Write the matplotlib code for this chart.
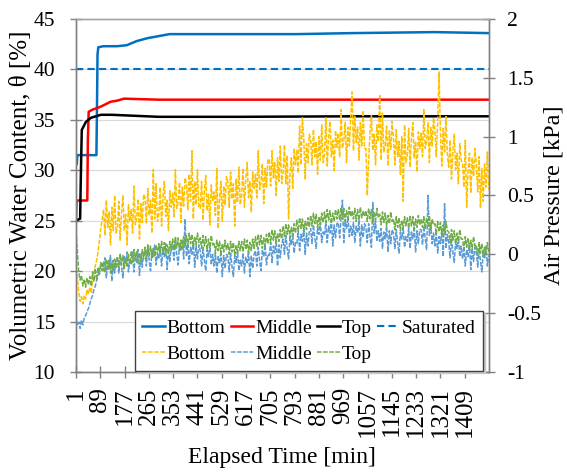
import numpy as np
import matplotlib
matplotlib.use("Agg")
import matplotlib.pyplot as plt

plt.rcParams['font.family'] = ['Liberation Serif', 'DejaVu Serif']

# ---- volumetric water content (left axis), breakpoints
t_bottom = [1, 4, 6, 75, 77, 79, 82, 100, 150, 185, 220, 260, 300, 340, 500, 800, 1000, 1300, 1496]
vwc_bottom = [30.6, 30.6, 31.5, 31.5, 36.0, 41.5, 42.2, 42.3, 42.3, 42.4, 42.8, 43.1, 43.3, 43.5,
              43.5, 43.5, 43.6, 43.7, 43.6]

t_middle = [1, 3, 5, 42, 44, 47, 60, 90, 127, 150, 175, 300, 600, 1000, 1496]
vwc_middle = [25.0, 26.8, 27.0, 27.0, 33.0, 35.8, 36.0, 36.3, 36.8, 36.9, 37.1, 37.0, 37.0, 37.0, 37.0]

t_top = [1, 16, 19, 22, 37, 55, 91, 130, 300, 600, 1000, 1496]
vwc_top = [25.0, 25.2, 30.0, 34.0, 34.8, 35.2, 35.5, 35.5, 35.3, 35.3, 35.35, 35.35]

t_saturated = [1, 1496]
vwc_saturated = [40.0, 40.0]

# ---- air pressure (right axis), one reading every 5 min
t_press = np.arange(1, 1500, 5)

p_bottom = [
    -0.12, -0.20, -0.32, -0.40, -0.36, -0.42, -0.35, -0.38, -0.30, -0.34,
    -0.28, -0.33, -0.22, -0.15, -0.10, -0.05, 0.02, 0.12, 0.22, 0.30,
    0.38, 0.16, 0.46, 0.23, 0.36, 0.08, 0.40, 0.20, 0.50, 0.18,
    0.22, 0.45, 0.12, 0.36, 0.50, 0.20, 0.34, 0.08, 0.42, 0.28,
    0.38, 0.18, 0.58, 0.25, 0.31, 0.47, 0.13, 0.43, 0.27, 0.51,
    0.48, 0.26, 0.56, 0.33, 0.46, 0.18, 0.72, 0.30, 0.60, 0.28,
    0.34, 0.57, 0.24, 0.48, 0.62, 0.32, 0.46, 0.20, 0.54, 0.40,
    0.52, 0.32, 0.72, 0.39, 0.45, 0.61, 0.27, 0.57, 0.41, 0.65,
    0.60, 0.38, 0.68, 0.45, 0.88, 0.30, 0.62, 0.42, 0.72, 0.40,
    0.39, 0.62, 0.29, 0.53, 0.67, 0.37, 0.51, 0.25, 0.59, 0.45,
    0.53, 0.33, 0.73, 0.22, 0.46, 0.62, 0.28, 0.58, 0.42, 0.66,
    0.62, 0.40, 0.70, 0.47, 0.60, 0.24, 0.64, 0.44, 0.74, 0.42,
    0.50, 0.73, 0.40, 0.64, 0.78, 0.48, 0.62, 0.36, 0.70, 0.56,
    0.68, 0.48, 0.88, 0.55, 0.61, 0.77, 0.43, 0.73, 0.57, 0.81,
    0.80, 0.58, 0.88, 0.65, 0.78, 0.50, 0.82, 0.62, 0.92, 0.60,
    0.70, 0.93, 0.60, 0.84, 0.30, 0.68, 0.82, 0.56, 0.90, 0.76,
    0.89, 0.69, 1.09, 0.76, 1.16, 0.98, 0.64, 0.94, 0.78, 1.02,
    0.98, 0.76, 1.06, 0.83, 0.96, 0.68, 1.00, 0.80, 1.10, 0.78,
    0.85, 1.16, 0.75, 0.99, 1.13, 0.83, 0.97, 0.71, 1.05, 0.91,
    1.03, 0.83, 1.23, 0.90, 0.96, 1.12, 0.78, 1.08, 0.92, 1.16,
    1.38, 0.88, 1.18, 0.95, 1.08, 0.80, 1.12, 0.92, 1.22, 0.90,
    0.90, 0.50, 0.80, 1.04, 1.18, 0.88, 1.02, 0.76, 1.10, 0.96,
    1.35, 0.80, 1.20, 0.87, 0.93, 1.09, 0.75, 1.05, 0.89, 1.13,
    0.98, 0.76, 1.06, 0.83, 0.96, 0.68, 1.00, 0.45, 1.10, 0.78,
    0.84, 1.07, 0.74, 0.98, 1.12, 0.82, 0.96, 0.70, 1.04, 0.90,
    1.03, 0.83, 1.23, 0.90, 0.96, 1.12, 0.78, 1.08, 0.92, 1.16,
    1.05, 0.83, 1.13, 1.55, 1.03, 0.75, 1.07, 0.87, 1.17, 0.85,
    0.74, 0.97, 0.64, 0.88, 1.02, 0.72, 0.86, 0.60, 0.94, 0.80,
    0.77, 0.57, 0.97, 0.40, 0.70, 0.86, 0.52, 0.82, 0.66, 0.90,
    0.75, 0.53, 0.83, 0.40, 0.73, 0.45, 0.77, 0.57, 0.87, 0.55,
]

p_middle = [
    -0.55, -0.60, -0.58, -0.63, -0.56, -0.60, -0.54, -0.52, -0.49, -0.46,
    -0.42, -0.38, -0.35, -0.30, -0.27, -0.22, -0.18, -0.14, -0.10, -0.08,
    -0.14, -0.03, -0.20, -0.06, -0.12, -0.01, -0.23, -0.05, -0.16, -0.04,
    -0.03, -0.16, 0.00, -0.11, -0.20, -0.02, -0.08, 0.02, -0.15, -0.06,
    -0.09, 0.02, -0.15, -0.01, -0.07, 0.04, -0.18, 0.00, -0.11, 0.01,
    0.03, -0.10, 0.06, -0.05, -0.14, 0.04, -0.02, 0.08, -0.09, 0.00,
    -0.04, 0.07, -0.10, 0.04, -0.02, 0.09, -0.13, 0.05, -0.06, 0.06,
    0.08, -0.05, 0.11, 0.00, -0.09, 0.09, 0.03, 0.13, -0.04, 0.30,
    -0.02, 0.09, -0.08, 0.06, 0.00, 0.11, -0.11, 0.07, -0.04, 0.08,
    0.03, -0.10, 0.06, -0.05, -0.14, 0.04, -0.02, 0.08, -0.09, 0.00,
    -0.10, 0.01, -0.16, -0.02, -0.08, 0.03, -0.19, -0.01, -0.12, 0.00,
    -0.02, -0.15, 0.01, -0.10, -0.19, -0.01, -0.07, 0.03, -0.14, -0.05,
    -0.10, 0.01, -0.16, -0.02, -0.08, 0.03, -0.19, -0.01, -0.12, 0.00,
    0.03, -0.10, 0.06, -0.05, -0.14, 0.04, -0.02, 0.08, -0.09, 0.00,
    -0.01, 0.10, -0.07, 0.07, 0.01, 0.12, -0.10, 0.08, -0.03, 0.09,
    0.13, 0.00, 0.16, 0.05, -0.04, 0.14, 0.08, 0.18, 0.01, 0.10,
    0.09, 0.20, 0.03, 0.17, 0.11, 0.22, 0.00, 0.18, 0.07, 0.19,
    0.22, 0.09, 0.25, 0.14, 0.05, 0.23, 0.17, 0.27, 0.10, 0.19,
    0.16, 0.27, 0.10, 0.24, 0.18, 0.29, 0.07, 0.25, 0.14, 0.26,
    0.27, 0.14, 0.30, 0.46, 0.10, 0.28, 0.22, 0.32, 0.15, 0.24,
    0.16, 0.27, 0.10, 0.24, 0.18, 0.29, 0.07, 0.25, 0.14, 0.26,
    0.23, 0.10, 0.26, 0.15, 0.06, 0.44, 0.18, 0.28, 0.11, 0.20,
    0.11, 0.22, 0.05, 0.19, 0.13, 0.24, 0.02, 0.20, 0.09, 0.21,
    0.18, 0.05, 0.21, 0.10, 0.01, 0.19, 0.13, 0.23, 0.06, 0.15,
    0.11, 0.22, 0.05, 0.19, 0.13, 0.24, 0.02, 0.20, 0.09, 0.21,
    0.21, 0.08, 0.24, 0.13, 0.04, 0.50, 0.16, 0.26, 0.09, 0.18,
    0.07, 0.18, 0.01, 0.15, 0.09, 0.20, -0.02, 0.43, 0.05, 0.17,
    0.10, -0.03, 0.13, 0.02, -0.07, 0.11, 0.05, 0.15, -0.02, 0.07,
    -0.04, 0.07, -0.10, 0.04, -0.02, 0.09, -0.13, 0.05, -0.06, 0.06,
    0.02, -0.11, 0.05, -0.06, -0.15, 0.03, -0.03, 0.07, -0.10, -0.01,
]

p_top = [
    0.20, 0.02, -0.15, -0.22, -0.18, -0.27, -0.21, -0.28, -0.20, -0.26,
    -0.19, -0.27, -0.15, -0.23, -0.12, -0.22, -0.11, -0.17, -0.07, -0.14,
    -0.06, -0.15, -0.04, -0.13, -0.05, -0.16, -0.07, -0.14, -0.04, -0.12,
    -0.02, -0.11, 0.00, -0.09, -0.01, -0.12, -0.03, -0.10, 0.00, -0.08,
    0.02, -0.07, 0.04, -0.05, 0.03, -0.08, 0.01, -0.06, 0.04, -0.04,
    0.06, -0.03, 0.08, -0.01, 0.07, -0.04, 0.05, -0.02, 0.08, 0.00,
    0.09, 0.00, 0.11, 0.02, 0.10, -0.01, 0.08, 0.01, 0.11, 0.03,
    0.13, 0.04, 0.15, 0.06, 0.14, 0.03, 0.12, 0.05, 0.15, 0.07,
    0.16, 0.07, 0.18, 0.09, 0.17, 0.06, 0.15, 0.08, 0.18, 0.10,
    0.14, 0.05, 0.16, 0.07, 0.15, 0.04, 0.13, 0.06, 0.16, 0.08,
    0.10, 0.01, 0.12, 0.03, 0.11, 0.00, 0.09, 0.02, 0.12, 0.04,
    0.09, 0.00, 0.11, 0.02, 0.10, -0.01, 0.08, 0.01, 0.11, 0.03,
    0.11, 0.02, 0.13, 0.04, 0.12, 0.01, 0.10, 0.03, 0.13, 0.05,
    0.15, 0.06, 0.17, 0.08, 0.16, 0.05, 0.14, 0.07, 0.17, 0.09,
    0.19, 0.10, 0.21, 0.12, 0.20, 0.09, 0.18, 0.11, 0.21, 0.13,
    0.24, 0.15, 0.26, 0.17, 0.25, 0.14, 0.23, 0.16, 0.26, 0.18,
    0.29, 0.20, 0.31, 0.22, 0.30, 0.19, 0.28, 0.21, 0.31, 0.23,
    0.33, 0.24, 0.35, 0.26, 0.34, 0.23, 0.32, 0.25, 0.35, 0.27,
    0.36, 0.27, 0.38, 0.29, 0.37, 0.26, 0.35, 0.28, 0.38, 0.30,
    0.38, 0.29, 0.40, 0.31, 0.39, 0.28, 0.37, 0.30, 0.40, 0.32,
    0.37, 0.30, 0.39, 0.28, 0.38, 0.29, 0.40, 0.31, 0.37, 0.32,
    0.37, 0.28, 0.39, 0.30, 0.38, 0.27, 0.36, 0.29, 0.39, 0.31,
    0.34, 0.25, 0.36, 0.27, 0.35, 0.24, 0.33, 0.26, 0.36, 0.28,
    0.30, 0.21, 0.32, 0.23, 0.31, 0.20, 0.29, 0.22, 0.32, 0.24,
    0.31, 0.22, 0.33, 0.24, 0.32, 0.21, 0.30, 0.23, 0.33, 0.25,
    0.30, 0.23, 0.32, 0.22, 0.31, 0.24, 0.33, 0.21, 0.30, 0.25,
    0.26, 0.17, 0.28, 0.19, 0.27, 0.16, 0.25, 0.18, 0.28, 0.20,
    0.19, 0.10, 0.21, 0.12, 0.20, 0.09, 0.18, 0.11, 0.21, 0.13,
    0.13, 0.04, 0.15, 0.06, 0.14, 0.03, 0.12, 0.05, 0.15, 0.07,
    0.08, -0.01, 0.10, 0.01, 0.09, -0.02, 0.07, 0.00, 0.10, 0.02,
]

x_ticks = [1, 89, 177, 265, 353, 441, 529, 617, 705, 793, 881, 969, 1057, 1145, 1233, 1321, 1409]


def main():
    fig = plt.figure(figsize=(5.67, 4.75), dpi=100)
    ax = fig.add_axes([0.134, 0.217, 0.728, 0.743])
    ax2 = ax.twinx()

    ax.grid(axis='y', color='#D9D9D9', lw=0.8, zorder=0)
    ax.set_axisbelow(True)

    l1, = ax.plot(t_bottom, vwc_bottom, color='#0070C0', lw=1.8, label='Bottom')
    l2, = ax.plot(t_middle, vwc_middle, color='#FF0000', lw=1.8, label='Middle')
    l3, = ax.plot(t_top, vwc_top, color='black', lw=1.8, label='Top')
    l4, = ax.plot(t_saturated, vwc_saturated, color='#0070C0', lw=1.5, dashes=(3.5, 2.0),
                  label='Saturated')

    p1, = ax2.plot(t_press, p_bottom, color='#FFC000', lw=1.1, dashes=(3, 1.0), label='Bottom')
    p2, = ax2.plot(t_press, p_middle, color='#5B9BD5', lw=1.1, dashes=(3, 1.0), label='Middle')
    p3, = ax2.plot(t_press, p_top, color='#70AD47', lw=1.1, dashes=(3, 1.0), label='Top')

    ax.set_xlim(1, 1496)
    ax.set_ylim(10, 45)
    ax2.set_ylim(-1, 2)
    ax.set_yticks(range(10, 46, 5))
    ax2.set_yticks([-1, -0.5, 0, 0.5, 1, 1.5, 2])
    ax2.set_yticklabels(['-1', '-0.5', '0', '0.5', '1', '1.5', '2'])
    ax.set_xticks(x_ticks)
    ax.set_xticklabels([str(v) for v in x_ticks], rotation=90)

    for a in (ax, ax2):
        for s in a.spines.values():
            s.set_color('#808080')
            s.set_linewidth(1.0)
        a.spines['top'].set_color('#A6A6A6')
        a.tick_params(direction='inout', length=8, width=1.0, color='#808080', labelsize=15.5)
    ax.tick_params(axis='x', labelsize=18, pad=7)
    ax.tick_params(axis='y', pad=11)
    ax2.tick_params(axis='y', pad=9)

    ax.set_ylabel('Volumetric Water Content, θ [%]', fontsize=18, labelpad=1)
    ax2.set_ylabel('Air Pressure [kPa]', fontsize=17.5, labelpad=2)
    ax.set_xlabel('Elapsed Time [min]', fontsize=17, labelpad=7)

    handles = [l1, l2, l3, l4, p1, p2, p3]
    labels = ['Bottom', 'Middle', 'Top', 'Saturated', 'Bottom', 'Middle', 'Top']
    # row-major order for ncol=4 legend
    order = [0, 4, 1, 5, 2, 6, 3]
    leg = ax2.legend([handles[i] for i in order], [labels[i] for i in order], ncol=4,
                     loc='lower left', bbox_to_anchor=(0.142, 0.003, 0.844, 0.18), mode='expand',
                     fontsize=14, handlelength=1.15, handletextpad=0.1, columnspacing=0.4,
                     borderaxespad=0, frameon=True, fancybox=False, edgecolor='#404040',
                     framealpha=1, borderpad=0.4, labelspacing=0.45,
                     shadow={'ox': 1.5, 'oy': -1.5, 'color': '#C8C8C8', 'alpha': 1})
    leg.get_frame().set_linewidth(1.0)
    leg.set_zorder(10)

    fig.savefig('out.png', dpi=100)


if __name__ == '__main__':
    main()
